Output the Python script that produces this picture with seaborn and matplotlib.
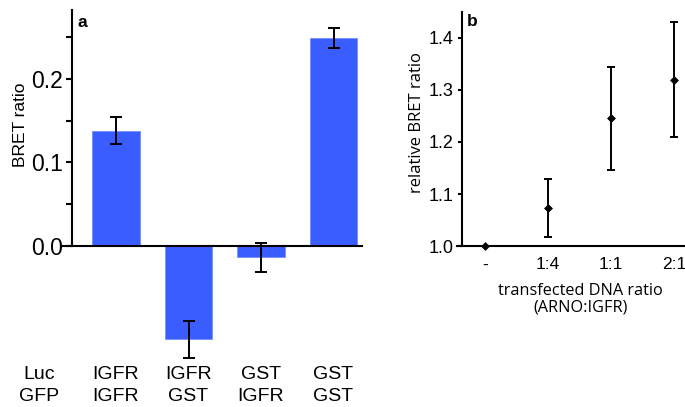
import matplotlib
matplotlib.use("Agg")
import matplotlib.pyplot as plt
from matplotlib.transforms import blended_transform_factory
import pandas as pd
import seaborn as sns

# Panel a: BRET between luciferase- and GFP-tagged partners
luc_partner = ["IGFR", "IGFR", "GST", "GST"]
gfp_partner = ["IGFR", "GST", "IGFR", "GST"]
bret_ratio = [0.138, -0.112, -0.014, 0.249]
bret_err = [0.016, 0.022, 0.017, 0.012]
a_ticks = [0.0, 0.1, 0.2]
a_tick_labels = ["0.0", "0.1", "0.2"]

# Panel b: relative BRET against transfected DNA ratio
dna_ratio = ["-", "1:4", "1:1", "2:1"]
rel_bret = [1.000, 1.073, 1.245, 1.319]
rel_bret_err = [0.0, 0.056, 0.098, 0.110]
b_ticks = [1.0, 1.1, 1.2, 1.3, 1.4]
b_tick_labels = ["1.0", "1.1", "1.2", "1.3", "1.4"]

BAR_BLUE = "#3a5dff"
W, H = 685, 407

sns.set_style("ticks")
plt.rcParams["font.family"] = ["Liberation Sans", "DejaVu Sans"]
plt.rcParams.update({
    "axes.linewidth": 1.5,
    "text.color": "black",
    "axes.labelcolor": "black",
    "axes.edgecolor": "black",
    "xtick.color": "black",
    "ytick.color": "black",
})

fig = plt.figure(figsize=(W / 100, H / 100), dpi=100)


def px_axes(left, top, right, bottom):
    return fig.add_axes([left / W, 1 - bottom / H, (right - left) / W, (bottom - top) / H])


# ---------------- panel a ----------------
ax_a = px_axes(72, 10, 362, 370)
df_a = pd.DataFrame({
    "pair": [f"{l}/{g}" for l, g in zip(luc_partner, gfp_partner)],
    "bret": bret_ratio,
})
sns.barplot(data=df_a, x="pair", y="bret", color=BAR_BLUE, saturation=1,
            width=0.66, errorbar=None, edgecolor="#7390ff", linewidth=0.6, ax=ax_a)
ax_a.errorbar(range(len(bret_ratio)), bret_ratio, yerr=bret_err, fmt="none",
              ecolor="black", elinewidth=1.4, capsize=4, capthick=1.4, zorder=5)

ax_a.set_xlim(-0.607, 3.393)
ax_a.set_ylim(-0.149, 0.283)
for s in ("top", "right"):
    ax_a.spines[s].set_visible(False)
ax_a.spines["left"].set_bounds(0, 0.283)
ax_a.spines["bottom"].set_position(("data", 0))
ax_a.spines["bottom"].set_bounds(-0.73, 3.393)
ax_a.spines["bottom"].set_zorder(6)
ax_a.set_xticks([])
ax_a.set_xlabel("")
ax_a.set_yticks(a_ticks, a_tick_labels, fontsize=16.5)
ax_a.set_yticks([0.05, 0.15, 0.25], minor=True)
ax_a.tick_params(axis="y", which="both", direction="out", length=4.5, width=1.5,
                 pad=2, colors="black")
ax_a.set_ylabel("BRET ratio", fontsize=12.5)
ax_a.yaxis.set_label_coords(-0.152, 0.682)
ax_a.text(0.02, 0.985, "a", transform=ax_a.transAxes, fontsize=12.5,
          fontweight="bold", ha="left", va="top")

# two-row partner labels under the bars
row_tf = blended_transform_factory(ax_a.transData, fig.transFigure)
row_y = [1 - 374.5 / H, 1 - 396.5 / H]
ax_a.text(-1.06, row_y[0], "Luc", transform=row_tf, ha="center", va="center", fontsize=14)
ax_a.text(-1.06, row_y[1], "GFP", transform=row_tf, ha="center", va="center", fontsize=14)
for i, (l, g) in enumerate(zip(luc_partner, gfp_partner)):
    ax_a.text(i, row_y[0], l, transform=row_tf, ha="center", va="center", fontsize=14)
    ax_a.text(i, row_y[1], g, transform=row_tf, ha="center", va="center", fontsize=14)

# ---------------- panel b ----------------
ax_b = px_axes(462, 12, 685, 246.3)
df_b = pd.DataFrame({"x": range(len(dna_ratio)), "rel": rel_bret})
ax_b.errorbar(range(len(rel_bret)), rel_bret, yerr=rel_bret_err, fmt="none",
              ecolor="black", elinewidth=1.4, capsize=3, capthick=1.4, zorder=3)
sns.scatterplot(data=df_b, x="x", y="rel", marker="D", s=16, color="black",
                edgecolor="black", linewidth=0.5, zorder=4, clip_on=False, ax=ax_b)

ax_b.set_xlim(-0.365, 3.175)
ax_b.set_ylim(1.0, 1.449)
for s in ("top", "right"):
    ax_b.spines[s].set_visible(False)
ax_b.spines["bottom"].set_bounds(-0.44, 3.175)
ax_b.set_xticks(range(len(dna_ratio)), dna_ratio, fontsize=12.5)
ax_b.tick_params(axis="x", length=0, pad=8, colors="black")
ax_b.set_yticks(b_ticks, b_tick_labels, fontsize=13)
ax_b.tick_params(axis="y", direction="out", length=3, width=1.5, pad=3, colors="black")
ax_b.set_xlabel("transfected DNA ratio\n(ARNO:IGFR)", fontsize=11.7,
                family=["Open Sans", "DejaVu Sans"], linespacing=1.05)
ax_b.xaxis.set_label_coords(0.53, -0.158)
ax_b.xaxis.label.set_va("top")
ax_b.set_ylabel("relative BRET ratio", fontsize=12, family=["Open Sans", "DejaVu Sans"])
ax_b.yaxis.set_label_coords(-0.166, 0.53)
ax_b.text(0.02, 0.99, "b", transform=ax_b.transAxes, fontsize=12.5,
          fontweight="bold", ha="left", va="top")

fig.savefig("out.png", dpi=100)
